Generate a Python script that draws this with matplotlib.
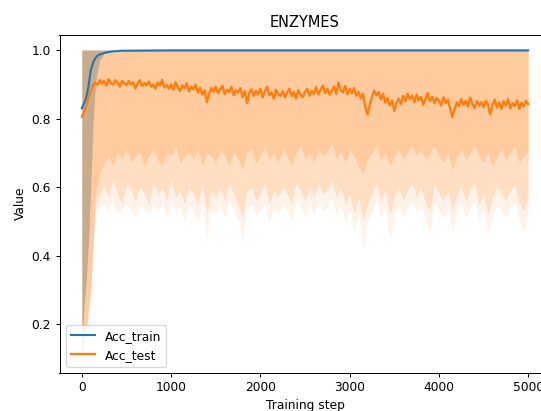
import numpy as np
import matplotlib
matplotlib.use("Agg")
import matplotlib.pyplot as plt

# values
train_steps = [0, 25, 50, 75, 100, 125, 150, 175, 200, 250, 300, 350, 400, 450, 500,
               1000, 1500, 2000, 2500, 3000, 3500, 4000, 4500, 5000]
acc_train = [0.830, 0.845, 0.860, 0.895, 0.940, 0.962, 0.976, 0.983, 0.987, 0.991, 0.994,
             0.996, 0.997, 0.998, 0.998, 0.999, 0.999, 0.999, 0.999, 0.999, 0.999, 0.999,
             0.999, 0.999]
train_lo = [0.12, 0.25, 0.33, 0.44, 0.60, 0.78, 0.89, 0.94, 0.97, 0.99, 0.995,
            0.996, 0.997, 0.997, 0.997, 0.997, 0.997, 0.997, 0.997, 0.997, 0.997, 0.997,
            0.997, 0.997]

test_steps = list(range(0, 5001, 25))
acc_test = [
    0.805, 0.820, 0.838, 0.862, 0.882, 0.896, 0.905, 0.898, 0.912, 0.902,
    0.910, 0.896, 0.915, 0.903, 0.899, 0.912, 0.905, 0.893, 0.910, 0.902,
    0.897, 0.910, 0.899, 0.906, 0.888, 0.903, 0.912, 0.895, 0.904, 0.897,
    0.908, 0.893, 0.899, 0.887, 0.905, 0.896, 0.913, 0.890, 0.898, 0.887,
    0.900, 0.884, 0.906, 0.892, 0.880, 0.897, 0.888, 0.903, 0.879, 0.893,
    0.885, 0.899, 0.876, 0.890, 0.870, 0.882, 0.848, 0.872, 0.889, 0.878,
    0.893, 0.874, 0.886, 0.896, 0.871, 0.884, 0.877, 0.892, 0.868, 0.883,
    0.876, 0.889, 0.862, 0.880, 0.845, 0.874, 0.885, 0.866, 0.881, 0.870,
    0.887, 0.862, 0.879, 0.893, 0.868, 0.876, 0.858, 0.884, 0.871, 0.866,
    0.880, 0.862, 0.876, 0.887, 0.865, 0.878, 0.858, 0.883, 0.870, 0.862,
    0.878, 0.887, 0.866, 0.881, 0.872, 0.892, 0.870, 0.884, 0.896, 0.874,
    0.887, 0.870, 0.881, 0.893, 0.872, 0.905, 0.883, 0.876, 0.895, 0.871,
    0.886, 0.874, 0.889, 0.866, 0.878, 0.858, 0.872, 0.835, 0.812, 0.840,
    0.862, 0.882, 0.868, 0.877, 0.855, 0.872, 0.846, 0.860, 0.838, 0.853,
    0.822, 0.845, 0.858, 0.842, 0.866, 0.851, 0.873, 0.856, 0.867, 0.848,
    0.870, 0.852, 0.863, 0.840, 0.858, 0.875, 0.850, 0.864, 0.845, 0.860,
    0.852, 0.838, 0.862, 0.845, 0.855, 0.830, 0.804, 0.826, 0.848, 0.836,
    0.857, 0.840, 0.852, 0.835, 0.861, 0.843, 0.830, 0.851, 0.838, 0.848,
    0.833, 0.852, 0.840, 0.812, 0.838, 0.855, 0.832, 0.847, 0.828, 0.851,
    0.838, 0.856, 0.830, 0.845, 0.836, 0.853, 0.828, 0.846, 0.835, 0.852,
    0.842,
]

# lower edge of the test spread, three levels (solid, streaky, faint)
band_steps = list(range(0, 5001, 50))
test_lo_core = [
    0.10, 0.18, 0.30, 0.57, 0.64,
    0.67, 0.69, 0.66, 0.70, 0.68, 0.71, 0.67, 0.69, 0.70, 0.66,
    0.69, 0.71, 0.68, 0.66, 0.70, 0.69, 0.72, 0.67, 0.69, 0.70,
    0.68, 0.71, 0.66, 0.70, 0.69, 0.67, 0.71, 0.69, 0.66, 0.70,
    0.68, 0.65, 0.70, 0.71, 0.67, 0.69, 0.72, 0.68, 0.70, 0.67,
    0.71, 0.69, 0.66, 0.70, 0.72, 0.68, 0.70, 0.67, 0.71, 0.69,
    0.70, 0.73, 0.68, 0.70, 0.67, 0.71, 0.69, 0.66, 0.64, 0.68,
    0.70, 0.72, 0.68, 0.70, 0.66, 0.69, 0.71, 0.68, 0.70, 0.72,
    0.69, 0.71, 0.68, 0.70, 0.72, 0.69, 0.67, 0.70, 0.65, 0.69,
    0.71, 0.68, 0.70, 0.72, 0.69, 0.67, 0.70, 0.66, 0.69, 0.71,
    0.68, 0.70, 0.72, 0.67, 0.69, 0.70,
]
test_lo_mid = [
    0.10, 0.18, 0.30, 0.55, 0.58,
    0.60, 0.57, 0.62, 0.58, 0.55, 0.61, 0.59, 0.56, 0.60, 0.58,
    0.55, 0.61, 0.58, 0.60, 0.56, 0.62, 0.57, 0.59, 0.55, 0.60,
    0.58, 0.55, 0.61, 0.52, 0.59, 0.57, 0.60, 0.56, 0.61, 0.58,
    0.55, 0.51, 0.59, 0.60, 0.56, 0.58, 0.61, 0.55, 0.59, 0.57,
    0.60, 0.58, 0.55, 0.61, 0.59, 0.56, 0.60, 0.57, 0.61, 0.58,
    0.59, 0.62, 0.57, 0.60, 0.55, 0.58, 0.52, 0.57, 0.50, 0.55,
    0.58, 0.61, 0.56, 0.59, 0.52, 0.57, 0.60, 0.56, 0.59, 0.61,
    0.57, 0.60, 0.55, 0.53, 0.61, 0.58, 0.56, 0.59, 0.53, 0.58,
    0.60, 0.56, 0.59, 0.61, 0.55, 0.58, 0.52, 0.57, 0.60, 0.58,
    0.56, 0.59, 0.61, 0.55, 0.53, 0.58,
]
test_lo_deep = [
    0.10, 0.18, 0.30, 0.53, 0.54,
    0.55, 0.53, 0.56, 0.52, 0.54, 0.55, 0.53, 0.51, 0.55, 0.54,
    0.52, 0.55, 0.53, 0.56, 0.51, 0.55, 0.53, 0.54, 0.50, 0.55,
    0.53, 0.50, 0.55, 0.45, 0.54, 0.52, 0.55, 0.51, 0.56, 0.53,
    0.50, 0.45, 0.54, 0.55, 0.52, 0.53, 0.55, 0.50, 0.54, 0.52,
    0.55, 0.53, 0.50, 0.56, 0.54, 0.51, 0.55, 0.52, 0.56, 0.53,
    0.54, 0.57, 0.52, 0.55, 0.50, 0.53, 0.47, 0.52, 0.42, 0.50,
    0.53, 0.56, 0.51, 0.54, 0.44, 0.52, 0.55, 0.51, 0.54, 0.56,
    0.52, 0.55, 0.50, 0.47, 0.56, 0.53, 0.51, 0.54, 0.47, 0.53,
    0.55, 0.51, 0.54, 0.56, 0.50, 0.53, 0.47, 0.52, 0.55, 0.53,
    0.51, 0.54, 0.56, 0.50, 0.47, 0.53,
]
test_hi = 1.0

DPI = 88
fig = plt.figure(figsize=(541 / DPI, 411 / DPI), dpi=DPI)
ax = fig.add_axes([59.5 / 541, 1 - 372.7 / 411, 491 / 541, 338 / 411])

ax.fill_between(train_steps, train_lo, 1.0, color="C0", alpha=0.4, linewidth=0)
ax.fill_between(band_steps, test_lo_core, test_hi, color="C1", alpha=0.4, linewidth=0)
ax.fill_between(band_steps, test_lo_mid, test_lo_core, color="C1", alpha=0.25, linewidth=0)
ax.fill_between(band_steps, test_lo_deep, test_lo_mid, color="C1", alpha=0.09, linewidth=0)

ax.plot(train_steps, acc_train, color="C0", lw=1.7, label="Acc_train")
ax.plot(test_steps, acc_test, color="C1", lw=1.9, label="Acc_test")

ax.set_xlim(-250, 5250)
ax.set_ylim(0.058, 1.0447)
ax.set_title("ENZYMES")
ax.set_xlabel("Training step")
ax.set_ylabel("Value")
ax.legend(loc="lower left")

fig.savefig("out.png", dpi=DPI)
